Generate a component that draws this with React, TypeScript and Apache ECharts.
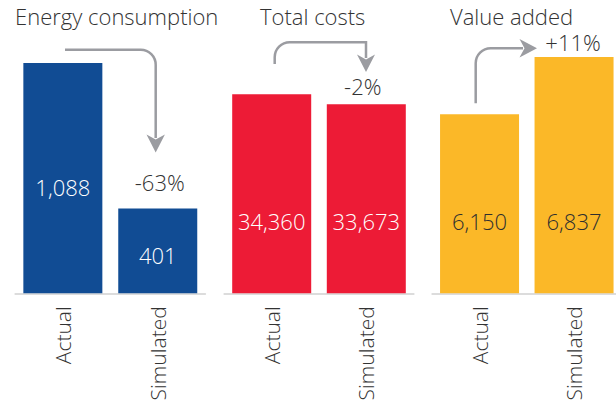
import React, { useEffect, useRef } from 'react';
import * as echarts from 'echarts';

// ---- data ----
const CATEGORIES = ['Actual', 'Simulated'];
const PANEL_TITLES = ['Energy consumption', 'Total costs', 'Value added'];
const ENERGY = [1088, 401];
const COSTS = [34360, 33673];
const VALUE_ADDED = [6150, 6837];

// ---- config (styles / scales) ----
const SERIES_VALUES = [ENERGY, COSTS, VALUE_ADDED];
const BAR_COLORS = ['#114c94', '#ed1b36', '#fbb828'];
const VALUE_LABEL_COLORS = ['#ffffff', '#ffffff', '#2f2f2f'];
const AXIS_MIN = [0, 20700, 4000];
const AXIS_MAX = [1116, 36920, 6837];
const GRID_LEFT = [15.4, 224.4, 432.3];
const GRID_WIDTH = [189.8, 189.2, 189];
const TITLE_LEFT = [15, 260, 450];
const LABEL_DIST = [
  [95, 27],
  [61, 61],
  [61, 61],
];
const CHANGE_DIST = [15, 7, 4];
const CHANGE_DX = [2, -3.5, -1];

const FONT = "'Open Sans', 'Noto Sans', sans-serif";
const WEIGHT = 300;
const TEXT = '#333333';
const ARROW = '#9b9ca1';

echarts.graphic.registerShape(
  'arrowLine1',
  echarts.graphic.extendPath('M65 49.7 H140.7 A15 15 0 0 1 155.7 64.7 V138', {})
);
echarts.graphic.registerShape(
  'arrowLine2',
  echarts.graphic.extendPath('M274.7 64 V57.3 A15 15 0 0 1 289.7 42.3 H366 V58', {})
);
echarts.graphic.registerShape(
  'arrowLine3',
  echarts.graphic.extendPath('M475.7 103.3 V63.3 A15 15 0 0 1 490.7 48.3 H523', {})
);

function fmtChange(a: number, b: number): string {
  const p = Math.round((b / a - 1) * 100);
  return (p > 0 ? '+' : '') + p + '%';
}

export default function App() {
  const ref = useRef<HTMLDivElement>(null);

  useEffect(() => {
    if (!ref.current) return;
    const chart = echarts.init(ref.current, null, { renderer: 'svg' });

    const grids = SERIES_VALUES.map((_, i) => ({
      left: GRID_LEFT[i],
      width: GRID_WIDTH[i],
      top: 57,
      height: 236.3,
      outerBoundsMode: 'none',
      containLabel: false,
    }));

    const xAxes = SERIES_VALUES.map((_, i) => ({
      type: 'category',
      gridIndex: i,
      data: CATEGORIES,
      axisTick: { show: false },
      axisLine: { show: true, onZero: false, lineStyle: { color: '#dcdcdc', width: 2 } },
      axisLabel: {
        rotate: 90,
        interval: 0,
        margin: 13,
        fontSize: 21,
        fontWeight: WEIGHT,
        color: TEXT,
        fontFamily: FONT,
      },
    }));

    const yAxes = SERIES_VALUES.map((_, i) => ({
      type: 'value',
      gridIndex: i,
      min: AXIS_MIN[i],
      max: AXIS_MAX[i],
      startValue: AXIS_MIN[i],
      axisLine: { show: false },
      axisTick: { show: false },
      axisLabel: { show: false },
      splitLine: { show: false },
    }));

    const series = SERIES_VALUES.map((vals, i) => ({
      type: 'bar',
      xAxisIndex: i,
      yAxisIndex: i,
      barWidth: 79,
      clip: true,
      itemStyle: { color: BAR_COLORS[i] },
      data: vals.map((v, j) => ({
        value: v,
        label: {
          show: true,
          position: 'insideBottom',
          distance: LABEL_DIST[i][j],
          formatter: () => v.toLocaleString('en-US'),
          color: VALUE_LABEL_COLORS[i],
          fontSize: 22,
          fontWeight: WEIGHT,
          fontFamily: FONT,
        },
      })),
      markPoint: {
        silent: true,
        symbol: 'circle',
        symbolSize: 1,
        itemStyle: { color: 'rgba(0,0,0,0)' },
        data: [
          {
            coord: [1, vals[1]],
            label: {
              show: true,
              position: 'top',
              distance: CHANGE_DIST[i],
              offset: [CHANGE_DX[i], 0],
              formatter: fmtChange(vals[0], vals[1]),
              color: TEXT,
              fontSize: 22,
              fontWeight: WEIGHT,
              fontFamily: FONT,
            },
          },
        ],
      },
    }));

    const titles = PANEL_TITLES.map((t, i) => ({
      text: t,
      left: TITLE_LEFT[i],
      top: 5,
      padding: 0,
      textStyle: { fontSize: 22, fontWeight: WEIGHT, color: TEXT, fontFamily: FONT },
    }));

    const line = (shape: string) => ({
      type: shape,
      x: 0,
      y: 0,
      silent: true,
      style: { stroke: ARROW, lineWidth: 2.5, fill: 'none' },
    });
    const head = (pts: number[][]) => ({
      type: 'polygon',
      silent: true,
      shape: { points: pts },
      style: { fill: ARROW },
    });

    chart.setOption({
      animation: false,
      title: titles,
      grid: grids,
      xAxis: xAxes,
      yAxis: yAxes,
      series,
      graphic: [
        line('arrowLine1'),
        head([
          [155.7, 152.5],
          [146.5, 134.5],
          [155.7, 139.5],
          [164.9, 134.5],
        ]),
        line('arrowLine2'),
        head([
          [366, 72],
          [357, 54.5],
          [366, 59.5],
          [375, 54.5],
        ]),
        line('arrowLine3'),
        head([
          [537, 48.3],
          [519.5, 39],
          [524.5, 48.3],
          [519.5, 57.6],
        ]),
      ],
    });

    return () => chart.dispose();
  }, []);

  return (
    <div
      ref={ref}
      style={{ position: 'fixed', left: 0, top: 0, width: 616, height: 406, background: '#fff' }}
    />
  );
}
